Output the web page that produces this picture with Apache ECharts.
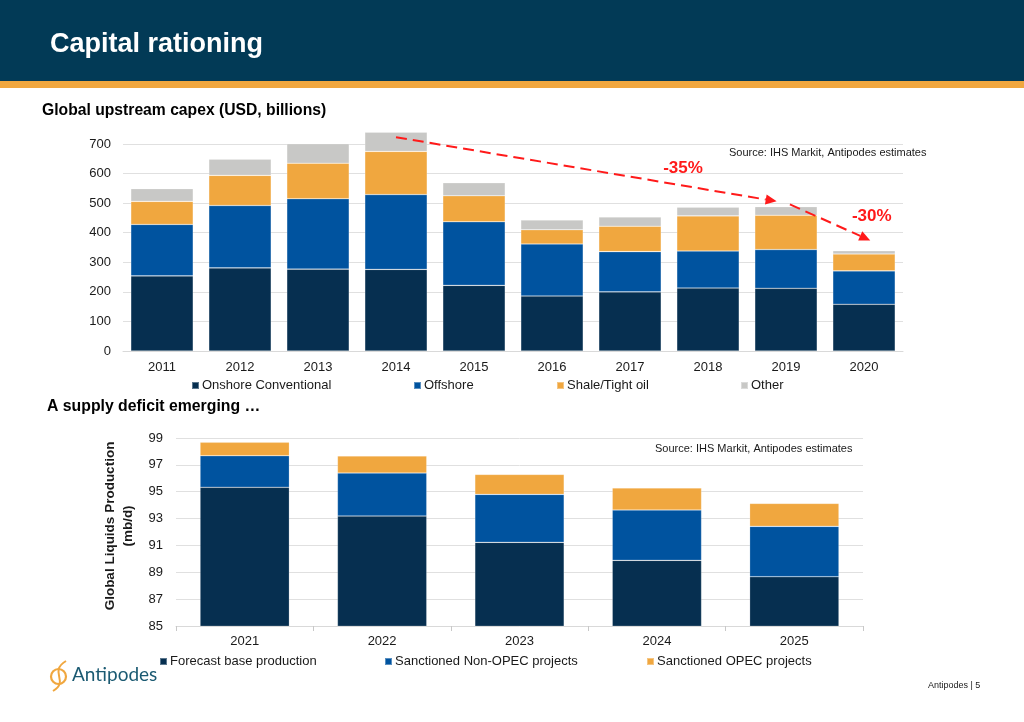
<!DOCTYPE html>
<html>
<head>
<meta charset="utf-8">
<script src="https://cdn.jsdelivr.net/npm/echarts@6/dist/echarts.min.js"></script>
<style>
html,body{margin:0;padding:0;background:#fff;}
#c{width:1024px;height:722px;}
</style>
</head>
<body>
<div id="c"></div>
<script>
// ---- Data: Global upstream capex (USD, billions) ----
const capexYears = ['2011','2012','2013','2014','2015','2016','2017','2018','2019','2020'];
const onshore  = [254, 281, 277, 276, 222, 186, 200, 213, 212, 158];
const offshore = [174, 211, 238, 253, 215, 176, 136, 125, 131, 113];
const shale    = [78, 102, 120, 146, 88, 48, 86, 119, 116, 57];
const other    = [43, 55, 66, 65, 44, 33, 31, 29, 29, 11];
const capexTicks = [0, 700, 100]; // min, max, interval

// ---- Data: Global liquids production (mb/d) ----
const prodYears = ['2021','2022','2023','2024','2025'];
const baseProd  = [95.33, 93.19, 91.23, 89.89, 88.67];
const nonOpec   = [2.35, 3.20, 3.57, 3.75, 3.75];
const opec      = [1.00, 1.27, 1.49, 1.64, 1.71];
const prodTicks = [85, 99, 2];

// ---- Annotations (category index, value) ----
const arrows = [
  {from: [3.0, 723], to: [7.88, 506]},
  {from: [8.05, 496], to: [9.08, 374]}
];
const arrowLabels = [
  {text: '-35%', at: [6.68, 618]},
  {text: '-30%', at: [9.1, 455]}
];

const C_NAVY = '#062f50', C_BLUE = '#00539f', C_ORANGE = '#f0a73f', C_GREY = '#c8c8c6';
const FONT = '"Liberation Sans", Arial, Helvetica, sans-serif';

const chart = echarts.init(document.getElementById('c'), null, {renderer: 'canvas'});

function bar(name, data, color, stack, xi, yi, gap) {
  return {
    name, type: 'bar', stack, data, xAxisIndex: xi, yAxisIndex: yi,
    barCategoryGap: gap, clip: false,
    itemStyle: {color, borderColor: 'rgba(255,255,255,0.35)', borderWidth: 0.6},
    emphasis: {disabled: true}
  };
}
function leg(name, left, top) {
  return {
    data: [name], left, top, padding: 0, icon: 'rect', itemWidth: 7, itemHeight: 7, itemGap: 0,
    selectedMode: false,
    textStyle: {fontFamily: FONT, fontSize: 13, color: '#1a1a1a', padding: [0, 0, 0, -2]}
  };
}

const option = {
  animation: false,
  textStyle: {fontFamily: FONT},
  grid: [
    {left: 123, right: 121, top: 144, height: 207},
    {left: 176, right: 161, top: 438, height: 188}
  ],
  xAxis: [
    {type: 'category', data: capexYears, gridIndex: 0,
     axisLine: {show: true, lineStyle: {color: '#d9d9d9'}}, axisTick: {show: false},
     axisLabel: {fontSize: 13, color: '#1a1a1a', margin: 10, fontFamily: FONT}},
    {type: 'category', data: prodYears, gridIndex: 1,
     axisLine: {show: true, lineStyle: {color: '#d9d9d9'}},
     axisTick: {show: true, length: 5, lineStyle: {color: '#c8c8c8'}},
     axisLabel: {fontSize: 13, color: '#1a1a1a', margin: 9, fontFamily: FONT}}
  ],
  yAxis: [
    {type: 'value', gridIndex: 0, min: capexTicks[0], max: capexTicks[1], interval: capexTicks[2],
     axisLine: {show: false}, axisTick: {show: false},
     splitLine: {lineStyle: {color: '#e0e0e0', width: 1}},
     axisLabel: {fontSize: 13, color: '#1a1a1a', margin: 12, fontFamily: FONT}},
    {type: 'value', gridIndex: 1, min: prodTicks[0], max: prodTicks[1], interval: prodTicks[2],
     axisLine: {show: false}, axisTick: {show: false},
     splitLine: {lineStyle: {color: '#e0e0e0', width: 1}},
     axisLabel: {fontSize: 13, color: '#1a1a1a', margin: 13, fontFamily: FONT},
     name: 'Global Liquids Production\n(mb/d)', nameLocation: 'middle', nameRotate: 90, nameGap: 31,
     nameTextStyle: {fontSize: 13.5, fontWeight: 'bold', color: '#1a1a1a', fontFamily: FONT, lineHeight: 18,
       padding: [0, 0, 0, 12]}}
  ],
  legend: [
    leg('Onshore Conventional', 191, 379),
    leg('Offshore', 413, 379),
    leg('Shale/Tight oil', 556, 379),
    leg('Other', 740, 379),
    leg('Forecast base production', 159, 655),
    leg('Sanctioned Non-OPEC projects', 384, 655),
    leg('Sanctioned OPEC projects', 646, 655)
  ],
  series: [
    bar('Onshore Conventional', onshore, C_NAVY, 'capex', 0, 0, '20%'),
    bar('Offshore', offshore, C_BLUE, 'capex', 0, 0, '20%'),
    bar('Shale/Tight oil', shale, C_ORANGE, 'capex', 0, 0, '20%'),
    bar('Other', other, C_GREY, 'capex', 0, 0, '20%'),
    Object.assign(bar('Forecast base production', baseProd, C_NAVY, 'prod', 1, 1, '35%'), {clip: true}),
    Object.assign(bar('Sanctioned Non-OPEC projects', nonOpec, C_BLUE, 'prod', 1, 1, '35%'), {clip: true}),
    Object.assign(bar('Sanctioned OPEC projects', opec, C_ORANGE, 'prod', 1, 1, '35%'), {clip: true})
  ],
  graphic: [
    {type: 'rect', shape: {x: 0, y: 0, width: 1024, height: 81}, style: {fill: '#023a56'}, silent: true},
    {type: 'rect', shape: {x: 0, y: 81, width: 1024, height: 7}, style: {fill: '#f0a73f'}, silent: true},
    {type: 'text', left: 50, top: 31, style: {text: 'Capital rationing', fill: '#ffffff', font: 'bold 27px ' + FONT}},
    {type: 'text', left: 42, top: 103, style: {text: 'Global upstream capex (USD, billions)', fill: '#000', font: 'bold 15.7px ' + FONT}},
    {type: 'text', left: 47, top: 399, style: {text: 'A supply deficit emerging \u2026', fill: '#000', font: 'bold 15.8px ' + FONT}},
    {type: 'text', left: 729, top: 147, style: {text: 'Source: IHS Markit, Antipodes estimates', fill: '#1a1a1a', font: '11px ' + FONT}},
    {type: 'text', left: 655, top: 443, style: {text: 'Source: IHS Markit, Antipodes estimates', fill: '#1a1a1a', font: '11px ' + FONT}},
    {type: 'text', left: 928, top: 681, style: {text: 'Antipodes | 5', fill: '#1a1a1a', font: '9px ' + FONT}},
    // logo
    {type: 'circle', shape: {cx: 58.5, cy: 676.5, r: 7.5}, style: {fill: 'none', stroke: '#f0a73f', lineWidth: 2.2}},
    {type: 'bezierCurve', shape: {x1: 66, y1: 661, x2: 53, y2: 691, cpx1: 48, cpy1: 672, cpx2: 70, cpy2: 681},
     style: {fill: 'none', stroke: '#f0a73f', lineWidth: 2}},
    {type: 'text', left: 72, top: 665, style: {text: 'Antipodes', fill: '#1b5a72', font: '19px Lato, ' + FONT}}
  ]
};
chart.setOption(option);

// Annotation arrows, positioned through the axes of the first grid
function toPx(idx, val) {
  const p0 = chart.convertToPixel({xAxisIndex: 0, yAxisIndex: 0}, [0, val]);
  const p1 = chart.convertToPixel({xAxisIndex: 0, yAxisIndex: 0}, [1, val]);
  return [p0[0] + idx * (p1[0] - p0[0]), p0[1]];
}
const extra = [];
arrows.forEach(a => {
  const s = toPx(a.from[0], a.from[1]);
  const e = toPx(a.to[0], a.to[1]);
  const dx = e[0] - s[0], dy = e[1] - s[1];
  const L = Math.sqrt(dx * dx + dy * dy), ux = dx / L, uy = dy / L;
  const hl = 11, hw = 5;
  const bx = e[0] - ux * hl, by = e[1] - uy * hl;
  extra.push({type: 'line', z: 100, shape: {x1: s[0], y1: s[1], x2: bx, y2: by},
    style: {stroke: '#ff1a1a', lineWidth: 2, lineDash: [11, 6]}, silent: true});
  extra.push({type: 'polygon', z: 100, shape: {points: [[e[0], e[1]], [bx - uy * hw, by + ux * hw], [bx + uy * hw, by - ux * hw]]},
    style: {fill: '#ff1a1a'}, silent: true});
});
arrowLabels.forEach(l => {
  const p = toPx(l.at[0], l.at[1]);
  extra.push({type: 'text', z: 100, x: p[0], y: p[1], style: {text: l.text, fill: '#ff1a1a', font: 'bold 17px ' + FONT,
    align: 'center', verticalAlign: 'middle'}, silent: true});
});
chart.setOption({graphic: option.graphic.concat(extra)});
</script>
</body>
</html>
